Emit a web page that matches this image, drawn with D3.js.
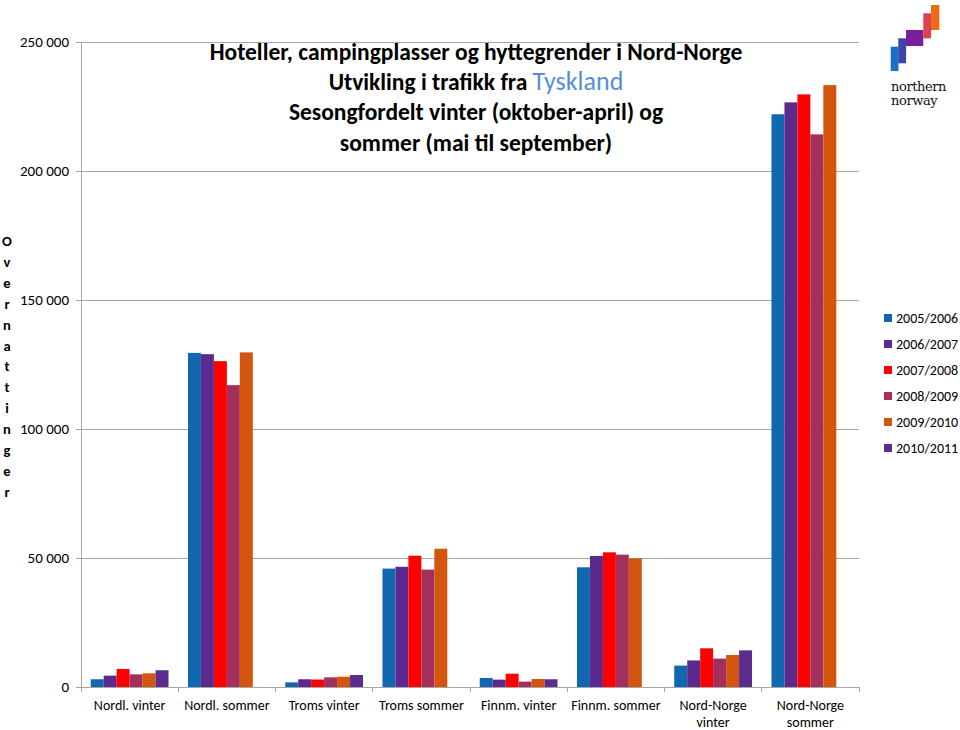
<!DOCTYPE html>
<html>
<head>
<meta charset="utf-8">
<script src="https://cdn.jsdelivr.net/npm/d3@7"></script>
<style>
  html, body { margin: 0; padding: 0; background: #fff; }
  svg { display: block; font-family: Calibri, Carlito, Lato, "Open Sans", sans-serif; }
</style>
</head>
<body>
<svg id="chart" width="960" height="730"></svg>
<script>
// ---- data ----
const categories = ["Nordl. vinter", "Nordl. sommer", "Troms vinter", "Troms sommer",
                    "Finnm. vinter", "Finnm. sommer", "Nord-Norge vinter", "Nord-Norge sommer"];
const categoryLabels = [["Nordl. vinter"], ["Nordl. sommer"], ["Troms vinter"], ["Troms sommer"],
                        ["Finnm. vinter"], ["Finnm. sommer"], ["Nord-Norge", "vinter"], ["Nord-Norge", "sommer"]];
const seriesNames = ["2005/2006", "2006/2007", "2007/2008", "2008/2009", "2009/2010", "2010/2011"];
const s2005 = [3000, 129500, 1800, 45900, 3500, 46400, 8300, 222000];
const s2006 = [4400, 129000, 3000, 46600, 2850, 50800, 10300, 226600];
const s2007 = [7000, 126300, 2900, 50900, 5150, 52200, 15000, 229700];
const s2008 = [4900, 117000, 3750, 45500, 2100, 51300, 11000, 214200];
const s2009 = [5300, 129700, 4000, 53600, 3100, 49900, 12400, 233300];
const s2010 = [6500, null, 4650, null, 3000, null, 14200, null];
const seriesValues = [s2005, s2006, s2007, s2008, s2009, s2010];
const seriesColors = ["#1268B0", "#5B2A8C", "#FF0000", "#A32F5C", "#D4550E", "#5A2D8E"];
const yTicks = [0, 50000, 100000, 150000, 200000, 250000];
const titleLines = ["Hoteller, campingplasser og hyttegrender i Nord-Norge",
                    "Utvikling i trafikk fra ", "Sesongfordelt  vinter (oktober-april) og",
                    "sommer (mai til september)"];
const titleHighlight = "Tyskland";
const yAxisTitle = "Overnattinger";
const logoText = ["northern", "norway"];

// ---- layout ----
const svg = d3.select("#chart");
const plot = { left: 81, right: 859, top: 42, bottom: 687 };

const x = d3.scaleBand().domain(categories).range([plot.left, plot.right]).paddingInner(0).paddingOuter(0);
const xs = d3.scaleBand().domain(seriesNames).range([0, x.bandwidth()]).paddingInner(0).paddingOuter(0.75);
const y = d3.scaleLinear().domain([0, 250000]).range([plot.bottom, plot.top]);
const fmt = v => d3.format(",")(v).replace(/,/g, " ");

// gridlines
svg.append("g").selectAll("line").data(yTicks.filter(d => d > 0)).join("line")
  .attr("x1", plot.left).attr("x2", plot.right)
  .attr("y1", d => y(d)).attr("y2", d => y(d))
  .attr("stroke", "#a6a6a6").attr("stroke-width", 1).attr("shape-rendering", "crispEdges");

// bars
const rows = [];
seriesNames.forEach((s, si) => categories.forEach((c, ci) => {
  const v = seriesValues[si][ci];
  if (v != null) rows.push({ s, c, v, color: seriesColors[si] });
}));
svg.append("g").selectAll("rect").data(rows).join("rect")
  .attr("x", d => x(d.c) + xs(d.s))
  .attr("width", xs.bandwidth())
  .attr("y", d => y(d.v))
  .attr("height", d => y(0) - y(d.v))
  .attr("fill", d => d.color);

// y axis
const yAxis = svg.append("g").attr("transform", `translate(${plot.left},0)`)
  .call(d3.axisLeft(y).tickValues(yTicks).tickSize(5).tickPadding(7).tickFormat(fmt));
yAxis.select(".domain").attr("stroke", "#a6a6a6");
yAxis.selectAll(".tick line").attr("stroke", "#a6a6a6");
yAxis.selectAll(".tick text").attr("font-size", 15).attr("fill", "#000")
  .attr("font-family", "Calibri, Carlito, Lato, sans-serif");

// x axis baseline + boundary ticks
const xAxis = svg.append("g").attr("transform", `translate(0,${plot.bottom})`)
  .call(d3.axisBottom(x).tickSize(0).tickPadding(0).tickFormat(""));
xAxis.select(".domain").attr("stroke", "#a6a6a6");
const boundaries = categories.map(c => x(c)).concat([x(categories[categories.length - 1]) + x.bandwidth()]);
svg.append("g").selectAll("line").data(boundaries).join("line")
  .attr("x1", d => d).attr("x2", d => d)
  .attr("y1", plot.bottom).attr("y2", plot.bottom + 5)
  .attr("stroke", "#a6a6a6").attr("shape-rendering", "crispEdges");
const xLabelRows = [];
categories.forEach((c, i) => categoryLabels[i].forEach((ln, li) => xLabelRows.push({ c, ln, li })));
svg.append("g").selectAll("text").data(xLabelRows).join("text")
  .attr("x", d => x(d.c) + x.bandwidth() / 2)
  .attr("y", d => 709.5 + d.li * 17.2)
  .attr("text-anchor", "middle").attr("font-size", 14).attr("fill", "#000")
  .text(d => d.ln);

// y axis title (stacked letters)
svg.append("g").selectAll("text").data(yAxisTitle.split("")).join("text")
  .attr("x", 7).attr("y", (d, i) => 246 + i * 20.9)
  .attr("text-anchor", "middle").attr("font-size", 14.5).attr("font-weight", "bold")
  .attr("fill", "#000").text(d => d);

// title
const tg = svg.append("g").attr("font-weight", "bold").attr("font-size", 23.5).attr("fill", "#000")
  .attr("text-anchor", "middle");
const tBase = [60, 90, 120, 151];
titleLines.forEach((ln, i) => {
  const t = tg.append("text").attr("x", 476).attr("y", tBase[i]);
  t.append("tspan").text(ln);
  if (i === 1) t.append("tspan").attr("fill", "#558ED5").attr("font-weight", "normal")
    .attr("font-size", 26).text(titleHighlight);
});

// legend
const lg = svg.append("g").selectAll("g").data(seriesNames).join("g")
  .attr("transform", (d, i) => `translate(884,${318 + i * 26})`);
lg.append("rect").attr("x", 0).attr("y", -4).attr("width", 8).attr("height", 8)
  .attr("fill", (d, i) => seriesColors[i]);
lg.append("text").attr("x", 12).attr("y", 5).attr("font-size", 14).attr("fill", "#000").text(d => d);

// logo
const logo = svg.append("g");
const logoBlocks = [
  { x: 890.7, y: 46.7, w: 7.8, h: 24.3, c: "#1B6FC8" },
  { x: 898.3, y: 38.3, w: 7.8, h: 25, c: "#3E45A8" },
  { x: 906, y: 30, w: 17.3, h: 16, c: "#7A1E9C" },
  { x: 923.3, y: 13.3, w: 7.8, h: 25, c: "#D9434F" },
  { x: 931, y: 5, w: 8.3, h: 25, c: "#F06A12" }
];
logo.selectAll("rect").data(logoBlocks).join("rect")
  .attr("x", d => d.x).attr("y", d => d.y).attr("width", d => d.w).attr("height", d => d.h)
  .attr("fill", d => d.c);
logo.selectAll("text").data(logoText).join("text")
  .attr("x", 891).attr("y", (d, i) => 91 + i * 14)
  .attr("font-size", 13).attr("font-family", "'DejaVu Serif', serif").attr("fill", "#111")
  .attr("letter-spacing", -0.4).text(d => d);
</script>
</body>
</html>
